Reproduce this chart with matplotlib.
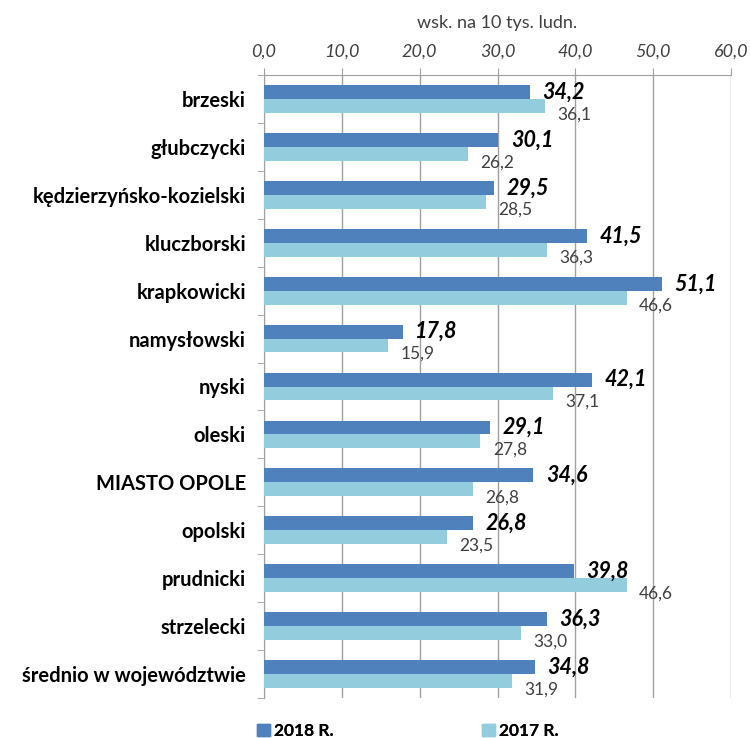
import matplotlib.pyplot as plt
import numpy as np
from matplotlib.ticker import FuncFormatter, MultipleLocator
from matplotlib.patches import Patch

plt.rcParams['font.family'] = ['Lato', 'DejaVu Sans']

# Data
categories = ["brzeski", "głubczycki", "kędzierzyńsko-kozielski", "kluczborski",
              "krapkowicki", "namysłowski", "nyski", "oleski", "MIASTO OPOLE",
              "opolski", "prudnicki", "strzelecki", "średnio w województwie"]
values_2018 = [34.2, 30.1, 29.5, 41.5, 51.1, 17.8, 42.1, 29.1, 34.6, 26.8, 39.8, 36.3, 34.8]
values_2017 = [36.1, 26.2, 28.5, 36.3, 46.6, 15.9, 37.1, 27.8, 26.8, 23.5, 46.6, 33.0, 31.9]
series_labels = ["2018 R.", "2017 R."]

c2018 = "#4F81BD"
c2017 = "#93CDDD"

fig = plt.figure(figsize=(7.5, 7.38), dpi=100)
ax = fig.add_axes([264 / 750, 1 - 698 / 738, (731 - 264) / 750, (698 - 75) / 738])

y = np.arange(len(categories))
h = 0.29
ax.barh(y - h / 2, values_2018, height=h, color=c2018, zorder=3)
ax.barh(y + h / 2, values_2017, height=h, color=c2017, zorder=3)

def fmt(v):
    return f"{v:.1f}".replace(".", ",")

# data labels: 2018 bold italic, 2017 plain and a bit lower
for yi, v in zip(y, values_2018):
    ax.annotate(fmt(v), (v, yi - h / 2), xytext=(9, 0), textcoords="offset points",
                va="center", ha="left", fontsize=15.5, fontweight="bold",
                fontstyle="italic", color="black", zorder=4)
for yi, v in zip(y, values_2017):
    ax.annotate(fmt(v), (v, yi + h / 2), xytext=(9, -6), textcoords="offset points",
                va="center", ha="left", fontsize=12.5, color="#404040", zorder=4)

ax.set_xlim(0, 60)
ax.set_ylim(len(categories) - 0.5, -0.5)
ax.xaxis.set_major_locator(MultipleLocator(10))
ax.xaxis.set_major_formatter(FuncFormatter(lambda v, p: fmt(v)))
ax.xaxis.tick_top()
for lbl in ax.get_xticklabels():
    lbl.set_fontstyle("italic")
ax.tick_params(axis="x", which="major", length=5, color="#A0A0A0",
               labelsize=13, labelcolor="#404040", pad=6)
fig.text(497 / 750, 1 - 23 / 738, "wsk. na 10 tys. ludn.", fontsize=13,
         color="#404040", ha="center", va="center")

ax.set_yticks(y)
ax.set_yticklabels(categories, fontsize=14.5, fontweight="bold")
ax.set_yticks(np.arange(len(categories) + 1) - 0.5, minor=True)
ax.tick_params(axis="y", which="major", length=0, pad=13)
ax.tick_params(axis="y", which="minor", length=5, color="#A0A0A0")

ax.grid(axis="x", color="#A0A0A0", linewidth=1, zorder=0)
for s in ["right", "bottom"]:
    ax.spines[s].set_visible(False)
for s in ["left", "top"]:
    ax.spines[s].set_color("#A0A0A0")

for color, label, x0 in zip([c2018, c2017], series_labels, [257, 482]):
    leg = fig.legend([Patch(color=color)], [label], loc="center left",
                     bbox_to_anchor=(x0 / 750, 1 - 731 / 738), frameon=False,
                     borderpad=0, borderaxespad=0,
                     handlelength=0.75, handleheight=0.75, handletextpad=0.25,
                     prop={"size": 12.5, "weight": "bold"})
    fig.add_artist(leg)

fig.savefig("out.png", dpi=100)
